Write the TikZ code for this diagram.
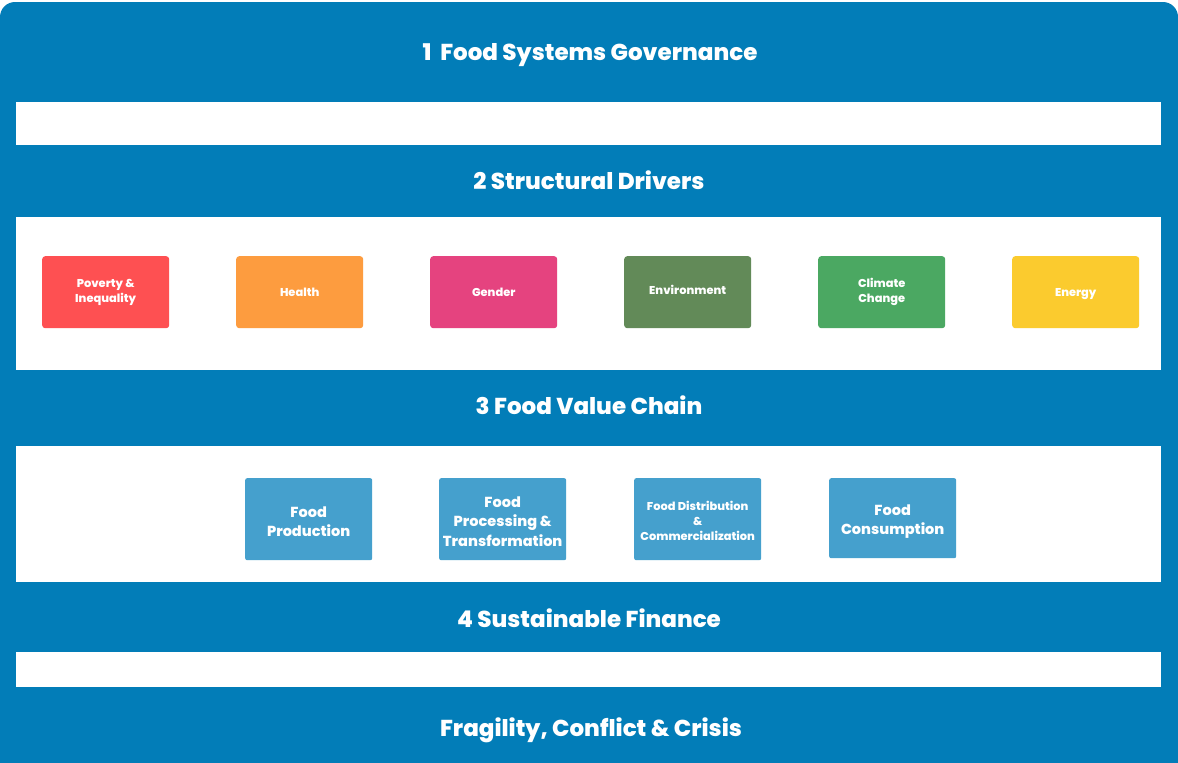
\documentclass[tikz,border=0pt]{standalone}
\usepackage{fontspec}
\setmainfont{Poppins}[UprightFont=* ExtraBold,BoldFont=* ExtraBold]
\definecolor{bgblue}{HTML}{027DB8}
\definecolor{vcblue}{HTML}{45A0CD}
\definecolor{cpov}{HTML}{FE5052}
\definecolor{chea}{HTML}{FD9C3F}
\definecolor{cgen}{HTML}{E5437F}
\definecolor{cenv}{HTML}{628A58}
\definecolor{ccli}{HTML}{4BA862}
\definecolor{cene}{HTML}{FBCB2E}
\tikzset{
  heading/.style={text=white,font=\fontsize{23}{27}\selectfont,anchor=base,yshift=-8pt},
  band/.style={fill=white,draw=none},
  driver/.style={rounded corners=3pt,minimum width=127pt,minimum height=72pt,inner sep=0pt,text=white,align=center,font=\fontsize{11.4}{15}\selectfont,anchor=north west},
  vcbox/.style={rounded corners=2pt,fill=vcblue,minimum width=127pt,minimum height=82pt,inner sep=0pt,anchor=north west},
  vctext/.style={text=white,align=center,inner sep=0pt,yshift=-2pt},
}
\begin{document}
\begin{tikzpicture}[x=1pt,y=-1pt]
\useasboundingbox (0,0) rectangle (1178,763);
\fill[bgblue,rounded corners=15pt] (0,2) rectangle (1178,763);
\fill[bgblue] (0,60) rectangle (1178,763);
\fill[band] (16,102) rectangle (1161,145);
\fill[band] (16,217) rectangle (1161,370);
\fill[band] (16,446) rectangle (1161,582);
\fill[band] (16,652) rectangle (1161,687);
\node[heading] (h1) at (590,52) {1\ \ Food Systems Governance};
\node[heading] (h2) at (589,181) {2 Structural Drivers};
\node[heading] (h3) at (589,406) {3 Food Value Chain};
\node[heading] (h4) at (589,619) {4 Sustainable Finance};
\node[heading] (h5) at (591,728) {Fragility, Conflict \& Crisis};
\node[driver,fill=cpov] (d1) at (42,256) {Poverty \&\\Inequality};
\node[driver,fill=chea] (d2) at (236,256) {Health};
\node[driver,fill=cgen] (d3) at (430,256) {Gender};
\node[driver,fill=cenv] (d4) at (624,256) {\raisebox{5pt}{Environment}};
\node[driver,fill=ccli] (d5) at (818,256) {Climate\\Change};
\node[driver,fill=cene] (d6) at (1012,256) {\raisebox{0pt}[8pt][0pt]{Energy}};
\node[vcbox] (v1) at (245,478) {};
\node[vcbox] (v2) at (439,478) {};
\node[vcbox] (v3) at (634,478) {};
\node[vcbox,minimum height=80pt] (v4) at (829,478) {};
\node[vctext,font=\fontsize{14.5}{19}\selectfont] (t1) at (v1.center) {Food\\Production};
\node[vctext,font=\fontsize{14.5}{19.5}\selectfont] (t2) at (v2.center) {Food\\Processing \&\\Transformation};
\node[vctext,font=\fontsize{11.4}{15}\selectfont] (t3) at (v3.center) {Food Distribution\\\&\\Commercialization};
\node[vctext,yshift=-1.5pt,font=\fontsize{14.5}{19}\selectfont] (t4) at (v4.center) {Food\\Consumption};
\end{tikzpicture}
\end{document}
